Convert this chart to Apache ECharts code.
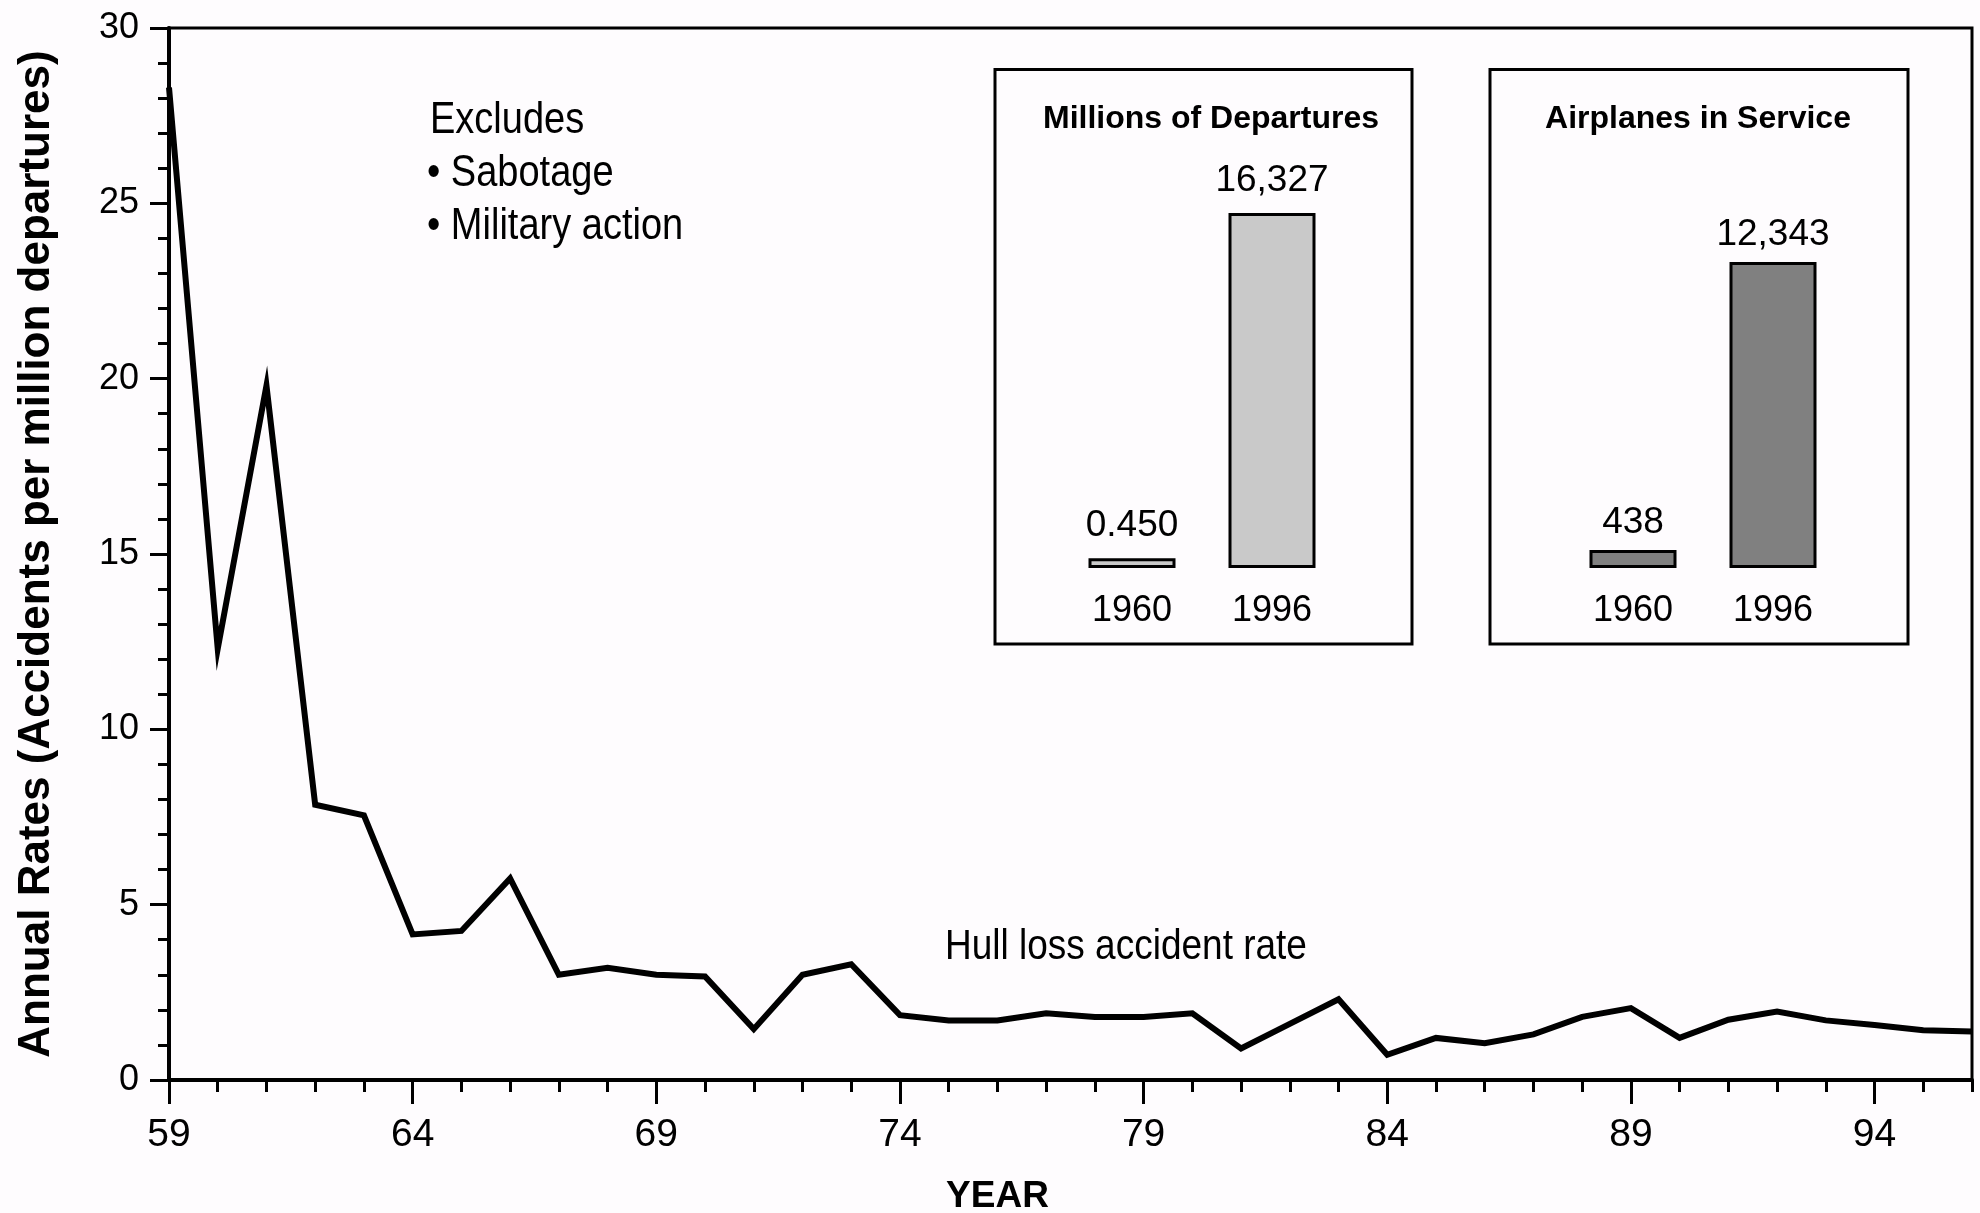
<!DOCTYPE html>
<html>
<head>
<meta charset="utf-8">
<title>Hull loss accident rate</title>
<script src="https://cdn.jsdelivr.net/npm/echarts@6/dist/echarts.min.js"></script>
<style>
  html, body { margin: 0; padding: 0; background: #fefcfe; }
  #chart { width: 1980px; height: 1213px; }
</style>
</head>
<body>
<div id="chart"></div>
<script>
// main line: years 1959..1996 (two-digit)
const years = [59, 60, 61, 62, 63, 64, 65, 66, 67, 68, 69, 70, 71, 72, 73, 74, 75, 76, 77,
  78, 79, 80, 81, 82, 83, 84, 85, 86, 87, 88, 89, 90, 91, 92, 93, 94, 95, 96]
const hullLossRate = [28.3, 12.3, 19.8, 7.85, 7.55, 4.15, 4.25, 5.75, 3.0, 3.2, 3.0, 2.95, 1.45,
  3.0, 3.3, 1.85, 1.7, 1.7, 1.9, 1.8, 1.8, 1.9, 0.9, 1.6, 2.3, 0.72, 1.2, 1.05, 1.3, 1.8,
  2.05, 1.2, 1.72, 1.95, 1.7, 1.57, 1.42, 1.38]
const xTickLabels = [59, 64, 69, 74, 79, 84, 89, 94]
const yTickLabels = [0, 5, 10, 15, 20, 25, 30]

// inset bars
const insetCategories = ['1960', '1996']
const departures = [0.450, 16.327]
const departureLabels = ['0.450', '16,327']
const airplanes = [438, 12343]
const airplaneLabels = ['438', '12,343']

const excludes = ['Excludes', '\u2022 Sabotage', '\u2022 Military action']

const SANS = "'Liberation Sans', Arial, sans-serif"

let chart = echarts.init(document.getElementById('chart'))

let insetXAxis = (gridIndex) => ({
  gridIndex: gridIndex,
  type: 'category',
  data: insetCategories,
  axisLine: { show: false },
  axisTick: { show: false },
  axisLabel: { color: '#000', fontFamily: SANS, fontSize: 36, margin: 25 }
})

let insetBar = (xi, yi, data, labels, color, minH, dist) => ({
  type: 'bar',
  xAxisIndex: xi,
  yAxisIndex: yi,
  data: data,
  barWidth: 87,
  barMinHeight: minH,
  itemStyle: { color: color, borderColor: '#000', borderWidth: 3 },
  label: {
    show: true,
    position: 'top',
    distance: dist,
    color: '#000',
    fontFamily: SANS,
    fontSize: 37,
    formatter: p => labels[p.dataIndex]
  },
  silent: true
})

// plain text with the slightly tall look of the original
let note = (text, x, y, size, align) => ({
  type: 'text', x: x, y: y, scaleY: 1.16,
  style: { text: text, fill: '#000', font: size + 'px ' + SANS, textAlign: align, textVerticalAlign: 'middle' }
})

let option = {
  backgroundColor: '#fefcfe',
  animation: false,
  grid: [
    { left: 169, top: 28, width: 1803, height: 1052, show: true, borderColor: '#000', borderWidth: 3,
      backgroundColor: 'transparent', outerBoundsMode: 'none', containLabel: false },
    { left: 1062, top: 213, width: 280, height: 355, outerBoundsMode: 'none' },
    { left: 1563, top: 262, width: 280, height: 306, outerBoundsMode: 'none' }
  ],
  xAxis: [
    {
      // yearly minor ticks
      gridIndex: 0, type: 'value', position: 'bottom', min: 59, max: 96, interval: 1,
      axisLine: { lineStyle: { color: '#000', width: 4 } },
      axisTick: { length: 12, lineStyle: { color: '#000', width: 3 } },
      axisLabel: { show: false },
      splitLine: { show: false }
    },
    {
      gridIndex: 0, type: 'value', position: 'bottom', min: 59, max: 96, interval: 5,
      axisLine: { show: false },
      axisTick: { customValues: xTickLabels, length: 24, lineStyle: { color: '#000', width: 3 } },
      axisLabel: { customValues: xTickLabels, color: '#000', fontFamily: SANS, fontSize: 39, margin: 36 },
      splitLine: { show: false },
      name: 'YEAR',
      nameLocation: 'middle',
      nameGap: 98,
      nameTextStyle: { color: '#000', fontFamily: SANS, fontWeight: 'bold', fontSize: 37, padding: [0, 146, 0, 0] }
    },
    insetXAxis(1),
    insetXAxis(2)
  ],
  yAxis: [
    {
      gridIndex: 0, type: 'value', position: 'left', min: 0, max: 30, interval: 5,
      axisLine: { show: true, lineStyle: { color: '#000', width: 4 } },
      axisTick: { show: true, customValues: yTickLabels, length: 19, lineStyle: { color: '#000', width: 3 } },
      minorTick: { show: true, splitNumber: 5, length: 11, lineStyle: { color: '#000', width: 3 } },
      axisLabel: { customValues: yTickLabels, color: '#000', fontFamily: SANS, fontSize: 36, margin: 30 },
      splitLine: { show: false },
      name: 'Annual Rates (Accidents per million departures)',
      nameLocation: 'middle',
      nameRotate: 90,
      nameGap: 110,
      nameTextStyle: { color: '#000', fontFamily: SANS, fontWeight: 'bold', fontSize: 44 }
    },
    { gridIndex: 1, type: 'value', min: 0, max: Math.max(...departures), show: false },
    { gridIndex: 2, type: 'value', min: 0, max: Math.max(...airplanes), show: false }
  ],
  series: [
    {
      type: 'line',
      xAxisIndex: 0,
      yAxisIndex: 0,
      data: years.map((y, i) => [y, hullLossRate[i]]),
      symbol: 'none',
      lineStyle: { color: '#000', width: 6, join: 'miter' },
      silent: true
    },
    insetBar(2, 1, departures, departureLabels, '#c9c9c9', 0, 14),
    insetBar(3, 2, airplanes, airplaneLabels, '#808080', 18, 9)
  ],
  graphic: [
    { type: 'rect', shape: { x: 995, y: 69.5, width: 417, height: 574.5 }, style: { fill: 'none', stroke: '#000', lineWidth: 3 } },
    { type: 'rect', shape: { x: 1490, y: 69.5, width: 418, height: 574.5 }, style: { fill: 'none', stroke: '#000', lineWidth: 3 } },
    { type: 'text', x: 1211, y: 119, style: { text: 'Millions of Departures', fill: '#000', font: 'bold 32px ' + SANS, textAlign: 'center', textVerticalAlign: 'middle' } },
    { type: 'text', x: 1698, y: 119, style: { text: 'Airplanes in Service', fill: '#000', font: 'bold 32px ' + SANS, textAlign: 'center', textVerticalAlign: 'middle' } },
    note('Hull loss accident rate', 945, 947, 37, 'left')
  ].concat(excludes.map((t, i) => note(t, i === 0 ? 430 : 427, 121 + i * 53, 38, 'left')))
}

chart.setOption(option)
</script>
</body>
</html>
